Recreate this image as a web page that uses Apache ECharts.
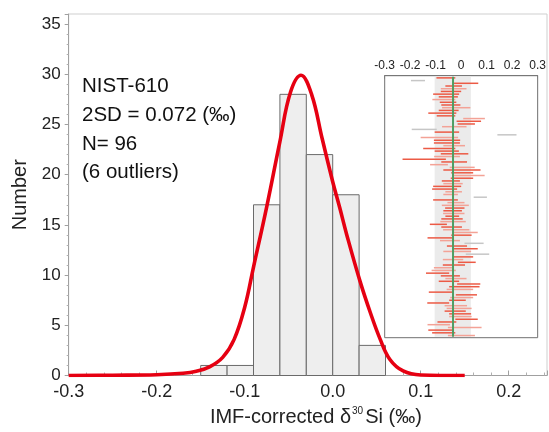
<!DOCTYPE html>
<html>
<head>
<meta charset="utf-8">
<script src="https://cdn.jsdelivr.net/npm/echarts@6/dist/echarts.min.js"></script>
<style>html,body{margin:0;padding:0;background:#fff;}#c{width:549px;height:432px;}</style>
</head>
<body>
<div id="c"></div>
<script>
// Histogram
const binEdges = [-0.15, -0.12, -0.09, -0.06, -0.03, 0.0, 0.03, 0.06];
const binCounts = [1, 1, 17, 28, 22, 18, 3];
// Fitted curve
const curveX = [-0.300, -0.250, -0.200, -0.170, -0.155, -0.140, -0.125, -0.112, -0.100, -0.090, -0.075, -0.060, -0.048, -0.036, -0.024, -0.012, 0.000, 0.008, 0.016, 0.031, 0.043, 0.054, 0.065, 0.080, 0.100, 0.150];
const curveY = [0.00, 0.03, 0.08, 0.22, 0.42, 0.85, 1.8, 3.6, 6.8, 10.8, 16.8, 23.3, 28.2, 29.9, 28.0, 23.6, 19.3, 16.7, 14.0, 9.4, 6.2, 3.6, 1.6, 0.45, 0.05, 0.0];
// Axis ticks
const yTicks = [0, 5, 10, 15, 20, 25, 30, 35];
const xTickLabels = ['-0.3', '-0.2', '-0.1', '0.0', '0.1', '0.2'];
const insetTickLabels = ['-0.3', '-0.2', '-0.1', '0', '0.1', '0.2', '0.3'];
// Inset: individual analyses (low, high, kind r=red, p=pink, g=outlier)
const rowLo = [-0.097,-0.197,-0.028,-0.062,-0.080,-0.080,-0.110,-0.088,-0.113,-0.084,-0.078,-0.075,-0.088,-0.129,-0.096,0.008,-0.018,-0.014,-0.075,-0.194,-0.104,0.142,-0.159,-0.107,-0.107,-0.070,-0.149,-0.104,-0.080,-0.106,-0.230,-0.078,-0.122,-0.045,-0.070,-0.039,-0.028,-0.041,-0.076,-0.070,-0.110,-0.114,-0.062,-0.070,0.049,-0.110,-0.054,-0.076,-0.063,-0.070,-0.071,-0.062,-0.078,-0.082,-0.123,-0.078,-0.071,-0.032,-0.039,-0.132,-0.083,0.013,-0.056,-0.035,-0.070,0.018,-0.031,-0.072,-0.013,-0.072,-0.107,-0.116,-0.138,-0.080,-0.062,-0.088,-0.016,-0.047,-0.057,-0.127,-0.021,-0.043,-0.047,-0.133,-0.065,-0.057,-0.065,-0.047,-0.047,-0.023,-0.093,-0.132,-0.052,-0.129,-0.114,-0.052];
const rowHi = [-0.023,-0.142,0.067,0.003,0.021,0.000,-0.008,-0.013,-0.023,-0.019,-0.003,0.036,-0.010,-0.019,-0.023,0.093,0.078,0.054,0.021,-0.096,-0.008,0.217,-0.012,-0.004,-0.005,0.015,-0.023,-0.009,0.028,-0.005,-0.060,0.023,-0.052,0.053,0.076,0.047,0.092,0.047,-0.005,0.006,0.000,-0.016,0.003,-0.013,0.101,-0.013,0.013,0.030,0.013,0.003,0.013,-0.008,0.006,0.018,-0.056,0.003,0.032,0.065,0.041,-0.035,-0.005,0.088,0.023,0.065,0.039,0.110,0.047,0.008,0.057,0.015,-0.036,-0.021,-0.047,-0.005,0.021,-0.008,0.075,0.072,0.047,-0.031,0.062,0.047,0.018,-0.047,0.023,0.041,0.018,0.039,0.041,0.065,-0.019,-0.044,0.080,-0.028,-0.023,0.054];
const rowKind = 'rgrrprrrpr' + 'rprrrprrpg' + 'rgprrprrrp' + 'rrpprrprrp' + 'rrppgrpprr' + 'prrprrpprr' + 'pgrrpgrprr' + 'pprrprrrpr' + 'rprrpprrpr' + 'rpprrp';
const meanValue = -0.032;
const bandRange = [-0.104, 0.038];

const kindColor = { r: '#ec5a45', p: '#f3a296', g: '#c6c6c6' };
const font = "'Liberation Sans', Arial, sans-serif";

const chart = echarts.init(document.getElementById('c'), null, { renderer: 'canvas' });

const histData = binCounts.map((c, i) => [binEdges[i], binEdges[i + 1], c]);
const curveData = curveX.map((x, i) => [x, curveY[i]]);
const rowData = rowLo.map((lo, i) => [lo, rowHi[i], i + 1]);

const option = {
  animation: false,
  backgroundColor: '#fff',
  grid: [
    { left: 68.7, right: 2, top: 14, bottom: 53, show: true, borderColor: '#cfcfcf', borderWidth: 1, containLabel: false },
    { left: 384.7, top: 75.7, width: 154.6, height: 262, show: true, borderColor: '#707070', borderWidth: 1, backgroundColor: '#fff', z: 5 }
  ],
  xAxis: [
    {
      type: 'value', gridIndex: 0, min: -0.3, max: 0.2435, interval: 0.1,
      name: '{n|IMF-corrected δ}{s|30}{n|Si (‰)}', nameLocation: 'middle', nameGap: 31,
      nameTextStyle: { padding: [0, 0, 0, 16], rich: { n: { fontFamily: font, fontSize: 20, color: '#222' }, s: { fontFamily: font, fontSize: 10, color: '#222', verticalAlign: 'top', padding: [0, 2, 11, 1] } } },
      axisLine: { show: true, onZero: false, lineStyle: { color: '#a0a0a0', width: 1 } },
      axisTick: { show: true, inside: true, length: 5, lineStyle: { color: '#a0a0a0' } },
      minorTick: { show: true, splitNumber: 5, length: 3, lineStyle: { color: '#b0b0b0' } },
      splitLine: { show: false },
      axisLabel: { fontFamily: font, fontSize: 18, color: '#222', margin: 8, showMaxLabel: false,
        formatter: v => { const i = Math.round((v + 0.3) / 0.1); return xTickLabels[i] !== undefined ? xTickLabels[i] : ''; } }
    },
    {
      type: 'value', gridIndex: 1, min: -0.3, max: 0.3, interval: 0.1, position: 'top',
      axisLine: { show: true, onZero: false, lineStyle: { color: '#707070' } },
      axisTick: { show: true, inside: true, length: 3, lineStyle: { color: '#909090' } },
      minorTick: { show: true, splitNumber: 2, length: 3, lineStyle: { color: '#909090' } },
      splitLine: { show: false },
      axisLabel: { fontFamily: font, fontSize: 12, color: '#222', margin: 4,
        formatter: v => { const i = Math.round((v + 0.3) / 0.1); return insetTickLabels[i] !== undefined ? insetTickLabels[i] : ''; } }
    }
  ],
  yAxis: [
    {
      type: 'value', gridIndex: 0, min: 0, max: 36, interval: 5,
      name: 'Number', nameLocation: 'middle', nameGap: 34, nameRotate: 90,
      nameTextStyle: { fontFamily: font, fontSize: 20, color: '#222' },
      axisLine: { show: true, onZero: false, lineStyle: { color: '#a0a0a0', width: 1 } },
      axisTick: { show: true, inside: false, length: 4, lineStyle: { color: '#a0a0a0' } },
      minorTick: { show: true, splitNumber: 5, length: 2, lineStyle: { color: '#b0b0b0' } },
      splitLine: { show: false },
      axisLabel: { fontFamily: font, fontSize: 17, color: '#222', margin: 8, showMaxLabel: false,
        formatter: v => (yTicks.indexOf(v) >= 0 ? String(v) : '') }
    },
    {
      type: 'value', gridIndex: 1, min: 0.2, max: 96.8, inverse: true, show: false,
      axisLine: { onZero: false }
    }
  ],
  graphic: [
    { type: 'text', left: 82, top: 76, z: 10, style: { text: 'NIST-610', font: '20.5px ' + font, fill: '#111' } },
    { type: 'text', left: 82, top: 105, z: 10, style: { text: '2SD = 0.072 (‰)', font: '20.5px ' + font, fill: '#111' } },
    { type: 'text', left: 82, top: 134, z: 10, style: { text: 'N= 96', font: '20.5px ' + font, fill: '#111' } },
    { type: 'text', left: 82, top: 162, z: 10, style: { text: '(6 outliers)', font: '20.5px ' + font, fill: '#111' } }
  ],
  series: [
    {
      type: 'custom', xAxisIndex: 0, yAxisIndex: 0, z: 2,
      data: histData, encode: { x: [0, 1], y: 2 },
      renderItem: (params, api) => {
        const p0 = api.coord([api.value(0), 0]);
        const p1 = api.coord([api.value(1), api.value(2)]);
        return { type: 'rect', shape: { x: p0[0], y: p1[1], width: p1[0] - p0[0], height: p0[1] - p1[1] },
          style: { fill: '#eeeeee', stroke: '#6a6a6a', lineWidth: 1 } };
      }
    },
    {
      type: 'line', xAxisIndex: 0, yAxisIndex: 0, z: 3, data: curveData, smooth: 0.4,
      symbol: 'none', lineStyle: { color: '#e60012', width: 3.6 }
    },
    {
      type: 'custom', xAxisIndex: 1, yAxisIndex: 1, z: 6,
      data: [[bandRange[0], bandRange[1]]], encode: { x: [0, 1] },
      renderItem: (params, api) => {
        const p0 = api.coord([api.value(0), 0.2]);
        const p1 = api.coord([api.value(1), 96.8]);
        return { type: 'rect', shape: { x: p0[0], y: Math.min(p0[1], p1[1]) + 1, width: p1[0] - p0[0], height: Math.abs(p1[1] - p0[1]) - 2 },
          style: { fill: '#ebebeb' } };
      }
    },
    {
      type: 'custom', xAxisIndex: 1, yAxisIndex: 1, z: 7,
      data: rowData, encode: { x: [0, 1], y: 2 },
      renderItem: (params, api) => {
        const p0 = api.coord([api.value(0), api.value(2)]);
        const p1 = api.coord([api.value(1), api.value(2)]);
        const k = rowKind[params.dataIndex];
        return { type: 'rect', shape: { x: p0[0], y: p0[1] - 0.75, width: p1[0] - p0[0], height: 1.5 },
          style: { fill: kindColor[k] } };
      }
    },
    {
      type: 'custom', xAxisIndex: 1, yAxisIndex: 1, z: 8,
      data: [[meanValue]], encode: { x: 0 },
      renderItem: (params, api) => {
        const p0 = api.coord([api.value(0), 0.2]);
        const p1 = api.coord([api.value(0), 96.8]);
        return { type: 'line', shape: { x1: p0[0], y1: p0[1] + 1, x2: p1[0], y2: p1[1] - 1 },
          style: { stroke: '#4f9e63', lineWidth: 2 } };
      }
    }
  ]
};
chart.setOption(option);
</script>
</body>
</html>
